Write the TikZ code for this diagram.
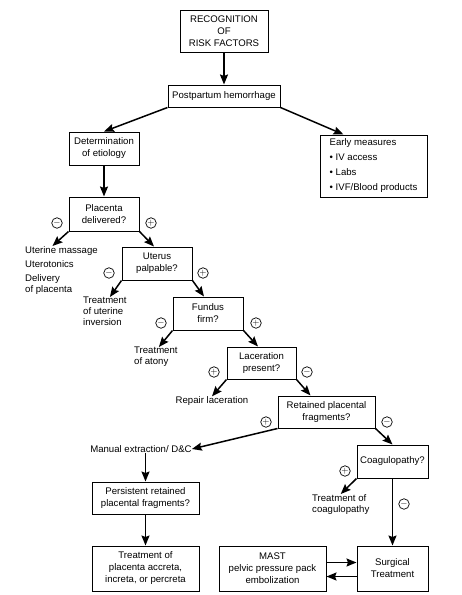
\documentclass[tikz,border=0pt]{standalone}
\usepackage{fontspec}
\setmainfont{Liberation Sans}
\usetikzlibrary{arrows.meta}
\tikzset{
  box/.style={draw, line width=1pt, align=center, inner sep=1pt, minimum height=33pt},
  lbl/.style={align=left, inner sep=0pt},
  sgn/.style={draw, circle, line width=.7pt, inner sep=0pt, minimum size=10.5pt, font=\fontsize{9.5}{9.5}\selectfont},
  arr/.style={line width=1.5pt, -{Stealth[length=10pt,width=8pt,inset=1.5pt]}}
}
\begin{document}
\begin{tikzpicture}[x=1pt,y=-1pt,font=\fontsize{9.6}{12}\selectfont]
  \useasboundingbox (0,0) rectangle (462,595);
  % boxes
  \node[box, minimum width=88pt, minimum height=42pt] (rec) at (224,31) {RECOGNITION\\OF\\RISK FACTORS};
  \node[box, minimum width=112pt, minimum height=22pt] (pph) at (224,96) {Postpartum hemorrhage};
  \node[box, minimum width=70pt] (det) at (104,148.5) {Determination\\of etiology};
  \node[box, align=left, minimum width=107pt, minimum height=62pt] (em) at (373.5,166) {Early measures\\[3pt]\textbullet{} IV access\\[3pt]\textbullet{} Labs\\[3pt]\textbullet{} IVF/Blood products};
  \node[box, minimum width=70pt, minimum height=34pt] (pd) at (104,214) {Placenta\\delivered?};
  \node[box, minimum width=70pt] (up) at (157,263.5) {Uterus\\palpable?};
  \node[box, minimum width=70pt] (ff) at (208,313.5) {Fundus\\firm?};
  \node[box, minimum width=69pt, minimum height=32pt] (lp) at (261.5,363) {Laceration\\present?};
  \node[box, minimum width=97pt, minimum height=32pt] (rpf) at (326.5,412) {Retained placental\\fragments?};
  \node[box, minimum width=71pt] (coag) at (392.5,461.5) {Coagulopathy?};
  \node[box, minimum width=107pt, minimum height=32pt] (prf) at (145.5,498) {Persistent retained\\placental fragments?};
  \node[box, minimum width=107pt, minimum height=45pt] (tpa) at (145.5,568.5) {Treatment of\\placenta accreta,\\increta, or percreta};
  \node[box, minimum width=107pt, minimum height=45pt] (mast) at (272.5,568.5) {MAST\\pelvic pressure pack\\embolization};
  \node[box, minimum width=71pt, minimum height=45pt] (surg) at (392.5,568.5) {Surgical\\Treatment};
  % outcomes
  \node[lbl, anchor=north west] (um) at (25,246) {Uterine massage\\[2pt]Uterotonics\\[2pt]Delivery\\[-1pt]of placenta};
  \node[lbl, anchor=north west] (tui) at (83,297) {Treatment\\[-1pt]of uterine\\[-1pt]inversion};
  \node[lbl, anchor=north west] (toa) at (134,347) {Treatment\\[-1pt]of atony};
  \node[lbl] (rl) at (212,401) {Repair laceration};
  \node[lbl] (mx) at (141,449) {Manual extraction/ D\&C};
  \node[lbl, anchor=north west] (toc) at (312,494) {Treatment of\\[-1pt]coagulopathy};
  % signs
  \node[sgn] (s1) at (57,223) {$-$};
  \node[sgn] (s2) at (151,223) {$+$};
  \node[sgn] (s3) at (109,273) {$-$};
  \node[sgn] (s4) at (203,273) {$+$};
  \node[sgn] (s5) at (161,323) {$-$};
  \node[sgn] (s6) at (256,323) {$+$};
  \node[sgn] (s7) at (214,372) {$+$};
  \node[sgn] (s8) at (307,372) {$-$};
  \node[sgn] (s9) at (266,422) {$+$};
  \node[sgn] (s10) at (387,422) {$-$};
  \node[sgn] (s11) at (345,471) {$+$};
  \node[sgn] (s12) at (404,504) {$-$};
  % arrows
  \draw[arr] (rec) -- (pph);
  \draw[arr] (pph.south west) -- (det.north);
  \draw[arr] (pph.south east) -- ([xshift=-30pt]em.north);
  \draw[arr] (det) -- (pd);
  \draw[arr] (pd.south west) -- ([xshift=-9pt]um.north);
  \draw[arr] (pd.south east) -- ([xshift=-3pt]up.north);
  \draw[arr] (up.south west) -- ([xshift=5pt]tui.north);
  \draw[arr] (up.south east) -- ([xshift=-4pt]ff.north);
  \draw[arr] (ff.south west) -- ([xshift=3pt]toa.north);
  \draw[arr] (ff.south east) -- ([xshift=-3.5pt]lp.north);
  \draw[arr] (lp.south west) -- (rl.north);
  \draw[arr] (lp.south east) -- ([xshift=-16pt]rpf.north);
  \draw[arr] (rpf.south west) -- (mx.east);
  \draw[arr] (rpf.south east) -- (coag.north);
  \draw[arr] (coag.south west) -- (toc.north);
  \draw[arr] (coag) -- (surg);
  \draw[arr] (mx.south -| prf.north) -- (prf.north);
  \draw[arr] (prf) -- (tpa);
  \draw[arr] ([yshift=6pt]mast.east) -- ([yshift=6pt]surg.west);
  \draw[arr] ([yshift=-8pt]surg.west) -- ([yshift=-8pt]mast.east);
\end{tikzpicture}
\end{document}
